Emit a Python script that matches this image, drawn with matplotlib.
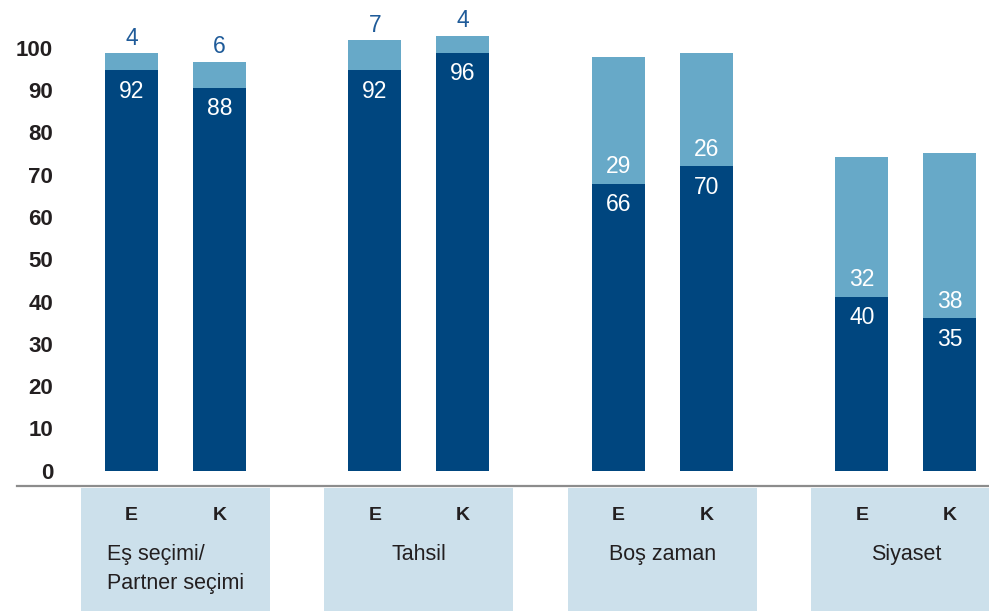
import numpy as np
import matplotlib
matplotlib.use("Agg")
import matplotlib.pyplot as plt
from matplotlib.patches import Rectangle

plt.rcParams['font.family'] = ['Liberation Sans', 'DejaVu Sans']

groups = ["Eş seçimi/\nPartner seçimi", "Tahsil", "Boş zaman", "Siyaset"]
sexes = ["E", "K"]
dark_vals = [92, 88, 92, 96, 66, 70, 40, 35]
light_vals = [4, 6, 7, 4, 29, 26, 32, 38]
y_ticks = np.arange(0, 101, 10)

dark = "#00467f"
light = "#67a9c8"
box = "#cce0eb"
txt_dark = "#231f20"
txt_blue = "#1f5b99"

# the source draws its bars about 3% taller than its own axis labels
scale = 1.029

fig = plt.figure(figsize=(9.89, 6.11), dpi=100)
ax = fig.add_axes([60 / 989, 0, 929 / 989, 1])
ax.set_xlim(60, 989)
ax.set_ylim(-32.25, 108.2)

centers = 175.5 + 243.5 * np.arange(len(groups))
xpos = np.ravel([[c - 44, c + 44] for c in centers])
bw = 53

ax.bar(xpos, dark_vals, width=bw, color=dark, zorder=2)
ax.bar(xpos, light_vals, bottom=dark_vals, width=bw, color=light, zorder=2)

for x, d, l in zip(xpos, dark_vals, light_vals):
    ax.text(x, d - 4.8, str(d), ha="center", va="center", color="white",
            fontsize=16.5)
    if l < 10:
        ax.text(x, d + l + 3.4, str(l), ha="center", va="center",
                color=txt_blue, fontsize=16.5)
    else:
        ax.text(x, d + 3.9, str(l), ha="center", va="center",
                color="white", fontsize=16.5)

# axis line and category boxes
ax.plot([17, 989], [-3.45, -3.45], color="#8c8c8c", lw=1.6,
        clip_on=False, zorder=3)
for c, g in zip(centers, groups):
    ax.add_patch(Rectangle((c - 94.5, -34), 189, 30.0, color=box,
                           lw=0, clip_on=True, zorder=1))
    ax.text(c - 44, -10.2, sexes[0], ha="center", va="center",
            fontsize=14, fontweight="bold", color=txt_dark)
    ax.text(c + 44, -10.2, sexes[1], ha="center", va="center",
            fontsize=14, fontweight="bold", color=txt_dark)
    ax.text(c, -16.9, g, ha="center", va="top", multialignment="left",
            fontsize=15.5, color=txt_dark, linespacing=1.5)

ax.set_yticks(y_ticks / scale)
ax.set_yticklabels([str(t) for t in y_ticks], fontsize=16,
                   fontweight="bold", color=txt_dark)
ax.tick_params(axis="y", length=0, pad=5)
ax.set_xticks([])
for s in ax.spines.values():
    s.set_visible(False)

fig.savefig("out.png", dpi=100)
